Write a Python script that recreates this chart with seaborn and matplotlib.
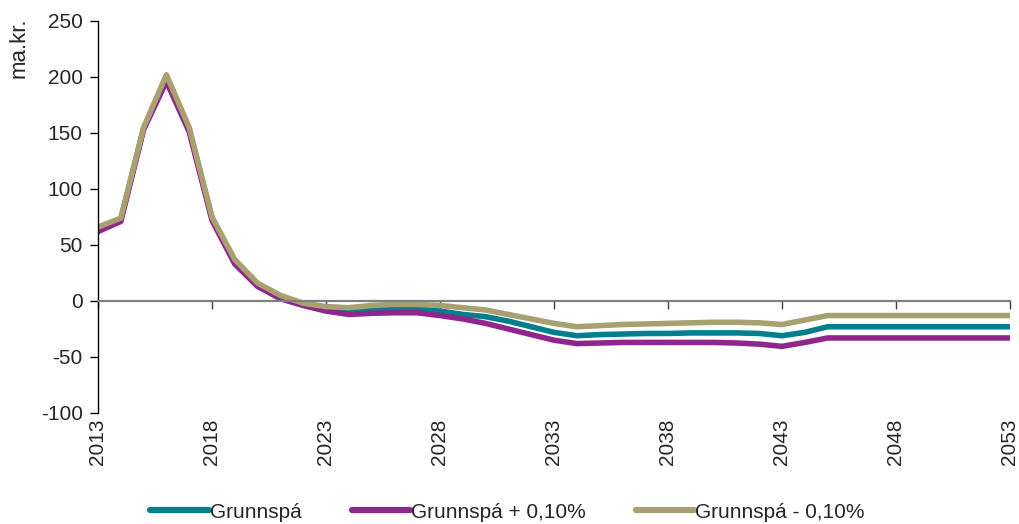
import pandas as pd
import numpy as np
import matplotlib.pyplot as plt
import seaborn as sns

years = list(range(2013, 2054))

# Grunnspá (base forecast), ma.kr.
grunnspa = [64, 73, 154, 199, 153, 74, 35, 14, 3, -3, -8, -10, -8, -7, -7,
            -9, -12, -14, -18, -23, -28, -31, -30, -29.5, -29, -29, -28.5, -28.5, -28.5, -29,
            -31, -28, -23, -23, -23, -23, -23, -23, -23, -23, -23]
# Grunnspá + 0,10%
plus_010 = [62, 71, 153, 196, 151, 72, 33, 13, 2, -4, -9, -12, -11, -10.5, -10.5,
            -13, -16, -20, -25, -30, -35, -38, -37.5, -37, -37, -37, -37, -37, -37.5, -38.5,
            -40.5, -37, -33, -33, -33, -33, -33, -33, -33, -33, -33]
# Grunnspá - 0,10%
minus_010 = [66, 74, 155, 202, 155, 75, 37, 16, 5, -2, -5, -6, -4, -3, -3,
             -4, -6, -8, -12, -16, -20, -23, -22, -21, -20.5, -20, -19.5, -19, -19, -19.5,
             -21, -17, -13, -13, -13, -13, -13, -13, -13, -13, -13]

series_names = ['Grunnspá', 'Grunnspá + 0,10%', 'Grunnspá - 0,10%']
colors = ['#00808F', '#8E268C', '#A8A070']

df = pd.DataFrame({
    'Ár': years * 3,
    'ma.kr.': grunnspa + plus_010 + minus_010,
    'Spá': sum([[n] * len(years) for n in series_names], []),
})

sns.set_style('white')
plt.rcParams['font.family'] = ['Liberation Sans', 'DejaVu Sans']
plt.rcParams['axes.unicode_minus'] = False

fs = 15

fig = plt.figure(figsize=(10.19, 5.24), dpi=100)
ax = fig.add_axes([98 / 1019, 1 - 413 / 524, (1010 - 98) / 1019, (413 - 21) / 524])

sns.lineplot(data=df, x='Ár', y='ma.kr.', hue='Spá', palette=colors,
             hue_order=series_names, linewidth=4, ax=ax)

ax.set_xlim(2013, 2053)
ax.set_ylim(-100, 250)
ax.set_yticks(np.arange(-100, 251, 50))
ax.tick_params(axis='y', labelsize=fs, length=6, width=1, color='black',
               direction='out', left=True, pad=5)
ax.spines['left'].set_color('black')
ax.spines['left'].set_linewidth(1)
ax.spines['top'].set_visible(False)
ax.spines['right'].set_visible(False)

# x axis line at zero with ticks, labels at bottom
xt = list(range(2013, 2054, 5))
ax.spines['bottom'].set_position(('data', 0))
ax.spines['bottom'].set_color('#808080')
ax.spines['bottom'].set_linewidth(1.6)
ax.set_xticks(xt)
ax.tick_params(axis='x', bottom=True, length=6, width=1, color='#404040',
               direction='out', labelbottom=False)

sec = ax.secondary_xaxis('bottom')
sec.set_xticks(xt)
sec.set_xticklabels([str(y) for y in xt], rotation=90, fontsize=fs)
sec.tick_params(length=0, pad=4)
sec.spines['bottom'].set_visible(False)

ax.set_xlabel('')
ax.set_ylabel('')
fig.text(19 / 1019, 1 - 18 / 524, 'ma.kr.', rotation=90, ha='center', va='top', fontsize=fs + 1)

ax.legend(loc='lower center', bbox_to_anchor=(0.449, -0.325), ncol=3, frameon=False,
          fontsize=fs, handlelength=2.8, handletextpad=0.05, columnspacing=2.4)
for line in ax.get_legend().get_lines():
    line.set_linewidth(4.5)

fig.savefig('out.png', dpi=100)
